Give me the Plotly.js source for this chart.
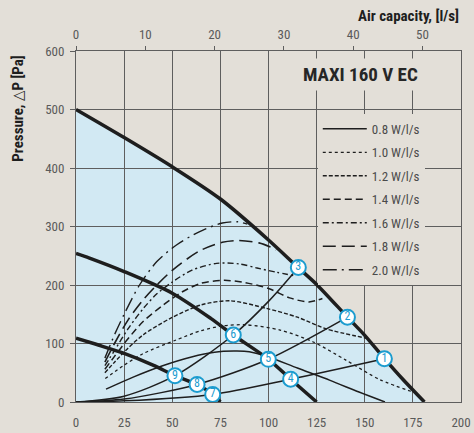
<!DOCTYPE html>
<html>
<head>
<meta charset="utf-8">
<script src="https://cdn.plot.ly/plotly-3.0.1.min.js"></script>
<style>html,body{margin:0;padding:0;background:#e3dfd8;}</style>
</head>
<body>
<div id="chart" style="width:474px;height:433px;"></div>
<script>
// ---- data (x = m3/h, y = Pa) ----
const maxX = [0, 25, 50, 75, 100, 115, 125, 141, 150, 160, 170, 181];
const maxY = [500, 452, 402, 347, 277, 231, 201, 145, 114, 75, 38, 0];

const midX = [0, 7, 25, 50, 70, 81.7, 100, 111.5, 125];
const midY = [254, 246, 223, 186, 143, 114.5, 73, 39, 0];

const lowX = [0, 12, 25, 40, 51.4, 62.9, 71, 75];
const lowY = [109, 97, 83, 63, 45, 30, 13, 0];

const sysAX = [0, 25, 51.4, 81.7, 100, 115.5];
const sysAY = [0, 10, 45, 114.5, 172, 230];
const sysBX = [0, 25, 62.9, 99.9, 141];
const sysBY = [0, 5, 30, 73, 145];
const sysCX = [0, 25, 71, 111.5, 160.2];
const sysCY = [0, 2, 13, 39, 74];

const p08X = [15.6, 30, 45, 60, 72, 82, 90, 100, 115, 132, 147, 160.5];
const p08Y = [22, 43, 62, 77, 85, 87, 86, 77, 58, 37, 17, 0];
const p10X = [15.2, 25, 35, 52, 65, 76, 88, 106, 123, 140, 158, 177];
const p10Y = [40, 63, 83, 106, 122, 130, 132, 123, 103, 72, 38, 15];
const p12X = [15, 20, 27, 35, 49, 65, 80, 99, 115, 130, 151];
const p12Y = [50, 68, 92, 115, 143, 166, 173, 160, 145, 125, 109];
const p14X = [15, 20, 27, 35, 45, 55, 65, 77, 88, 100, 111, 121, 128];
const p14Y = [56, 78, 108, 138, 165, 188, 203, 208, 204, 194, 178, 171, 177];
const p16X = [15, 20, 27, 35, 42, 50, 60, 73, 85, 94, 104, 113];
const p16Y = [62, 88, 125, 160, 185, 205, 225, 237, 236, 229, 222, 216];
const p18X = [15, 20, 27, 35, 42, 50, 64, 76, 84, 95, 101, 104];
const p18Y = [68, 100, 140, 175, 200, 225, 258, 273, 276, 272, 265, 260];
const p20X = [15, 20, 25, 33, 42, 52, 64, 76, 84, 89];
const p20Y = [75, 115, 150, 200, 240, 268, 291, 306, 308, 304];

const powerNames = ['0.8 W/l/s', '1.0 W/l/s', '1.2 W/l/s', '1.4 W/l/s', '1.6 W/l/s', '1.8 W/l/s', '2.0 W/l/s'];

const ptX = [160.2, 141, 115.5, 111.5, 99.9, 81.7, 71, 62.9, 51.4];
const ptY = [74, 145, 230, 39, 73, 114.5, 13, 30, 45];
const ptLabel = ['1', '2', '3', '4', '5', '6', '7', '8', '9'];

const xTicks = [0, 25, 50, 75, 100, 125, 150, 175, 200];
const yTicks = [0, 100, 200, 300, 400, 500, 600];
const lsTicks = [0, 10, 20, 30, 40, 50];

// ---- styling ----
const BG = '#e3dfd8';
const BLUE = '#d2e9f3';
const GRID = '#5e5e5e';
const INK = '#1e1e1e';
const CYAN = '#1c9ccf';
const FONT = '"Roboto Condensed", "Liberation Sans Narrow", "Arial Narrow", "DejaVu Sans Condensed", sans-serif';

function line(x, y, w, dash, name, legend) {
  return {
    x: x, y: y, type: 'scatter', mode: 'lines',
    line: {color: INK, width: w, dash: dash || 'solid', shape: 'spline', smoothing: 0.8},
    name: name || '', showlegend: !!legend, legendgroup: name || undefined,
    hoverinfo: 'skip'
  };
}

const traces = [
  line(p08X, p08Y, 1.5, 'solid', powerNames[0], true),
  line(p10X, p10Y, 1.3, 'dot', powerNames[1], true),
  line(p12X, p12Y, 1.4, '4px,2px', powerNames[2], true),
  line(p14X, p14Y, 1.5, '7px,4px', powerNames[3], true),
  line(p16X, p16Y, 1.4, '6px,3px,2px,3px', powerNames[4], true),
  line(p18X, p18Y, 1.6, '13px,6px', powerNames[5], true),
  line(p20X, p20Y, 1.4, '14px,5px,2px,5px', powerNames[6], true),
  line(sysAX, sysAY, 1.5),
  line(sysBX, sysBY, 1.5),
  line(sysCX, sysCY, 1.5),
  line(lowX, lowY, 3.5),
  line(midX, midY, 3.5),
  line(maxX, maxY, 3.5),
  {
    x: ptX, y: ptY, text: ptLabel, type: 'scatter', mode: 'markers+text',
    marker: {size: 15, color: '#ffffff', line: {color: CYAN, width: 2}},
    textposition: 'middle center',
    textfont: {family: FONT, size: 12, color: CYAN},
    showlegend: false, hoverinfo: 'skip'
  },
  {
    x: [0], y: [0], xaxis: 'x2', yaxis: 'y', type: 'scatter', mode: 'markers',
    marker: {opacity: 0}, showlegend: false, hoverinfo: 'skip'
  }
];

// blue working area under the maximum curve
let fillPath = 'M0,0';
for (let i = 0; i < maxX.length; i++) fillPath += ' L' + maxX[i] + ',' + maxY[i];
fillPath += ' Z';

const layout = {
  width: 474, height: 433,
  margin: {l: 76, r: 13, t: 51, b: 31},
  paper_bgcolor: BG, plot_bgcolor: BG,
  font: {family: FONT, size: 13, color: '#5a5a5a'},
  showlegend: true,
  legend: {
    x: 0.628, xanchor: 'left', y: 0.821, yanchor: 'top',
    bgcolor: BG, borderwidth: 0,
    font: {family: FONT, size: 13, color: '#4a4a4a'},
    traceorder: 'grouped', tracegroupgap: 3.6, itemwidth: 44
  },
  xaxis: {
    range: [0, 200], tickvals: xTicks, showgrid: true, gridcolor: GRID, gridwidth: 1,
    showline: true, linecolor: GRID, linewidth: 1, mirror: true, zeroline: false,
    ticks: '', ticklabelstandoff: 8, fixedrange: true,
    tickfont: {family: FONT, size: 13, color: '#5a5a5a'}
  },
  xaxis2: {
    overlaying: 'x', side: 'top', range: [0, 200 / 3.6], tickvals: lsTicks,
    showgrid: false, zeroline: false, showline: true, linecolor: GRID, linewidth: 1,
    ticks: 'outside', ticklen: 4, tickcolor: GRID, ticklabelstandoff: 2, fixedrange: true,
    tickfont: {family: FONT, size: 13, color: '#5a5a5a'}
  },
  yaxis: {
    range: [0, 600], tickvals: yTicks, showgrid: true, gridcolor: GRID, gridwidth: 1,
    showline: true, linecolor: GRID, linewidth: 1, mirror: true, zeroline: false,
    ticks: 'outside', ticklen: 5, tickcolor: GRID, ticklabelstandoff: 3, fixedrange: true,
    tickfont: {family: FONT, size: 13, color: '#5a5a5a'}
  },
  shapes: [{
    type: 'path', xref: 'x', yref: 'y', path: fillPath,
    fillcolor: BLUE, line: {width: 0}, layer: 'below'
  }],
  annotations: [
    {
      text: 'MAXI 160 V EC', xref: 'paper', yref: 'paper', x: 0.738, y: 0.932,
      xanchor: 'center', yanchor: 'middle', showarrow: false, bgcolor: BG, borderpad: 4,
      font: {family: FONT, size: 19, color: '#262626', weight: 'bold'}
    },
    {
      text: 'Air capacity, [l/s]', xref: 'paper', yref: 'paper', x: 1.0, y: 1.1,
      xanchor: 'right', yanchor: 'middle', showarrow: false,
      font: {family: FONT, size: 15, color: '#1e1e1e', weight: 'bold'}
    },
    {
      text: 'Pressure, <span style="font-weight:normal">△</span>P [Pa]', xref: 'paper', yref: 'paper', x: -0.153, y: 0.836,
      xanchor: 'center', yanchor: 'middle', showarrow: false, textangle: -90,
      font: {family: FONT, size: 15, color: '#1e1e1e', weight: 'bold'}
    }
  ]
};

Plotly.newPlot('chart', traces, layout, {displayModeBar: false, staticPlot: true});
</script>
</body>
</html>
